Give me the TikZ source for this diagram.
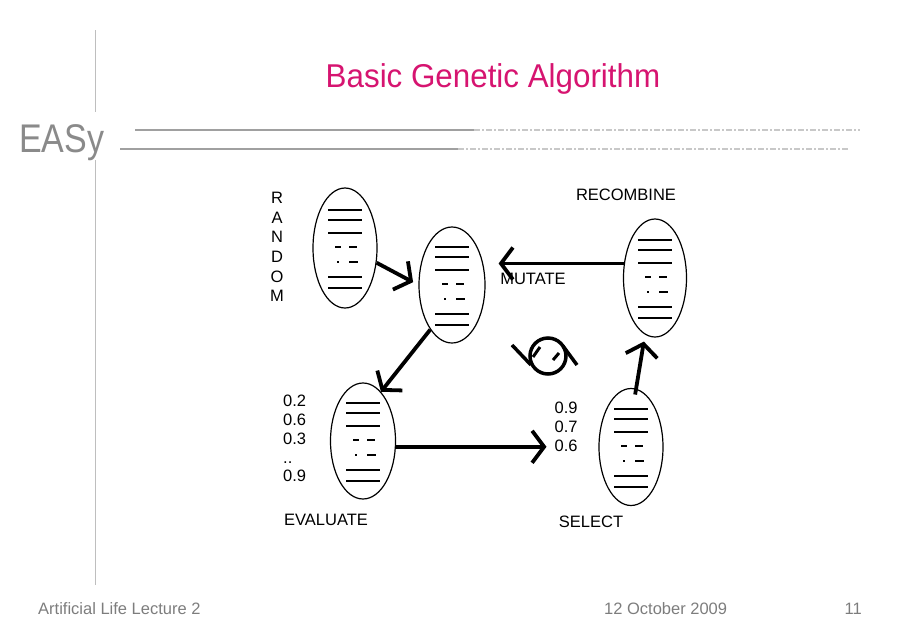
\documentclass[tikz,border=0pt]{standalone}
\usepackage{fontspec}
\setmainfont{Liberation Sans}
\usetikzlibrary{arrows.meta,shapes.geometric}
\definecolor{titlemag}{RGB}{214,20,112}
\definecolor{easygray}{RGB}{138,138,138}
\definecolor{footgray}{RGB}{125,125,125}
\definecolor{rulegray}{RGB}{160,160,160}
\definecolor{rulelight}{RGB}{200,200,200}
\definecolor{vgray}{RGB}{190,190,190}
\newcommand{\poplines}[6]{%
  \draw[line width=#2] ([shift={(-17,-38)}]#1.center) -- ++(34,0);
  \draw[line width=#3] ([shift={(-17,-28)}]#1.center) -- ++(34,0);
  \draw[line width=#4] ([shift={(-17,-15)}]#1.center) -- ++(34,0);
  \draw[line width=1.5pt] ([shift={(-10,-1)}]#1.center) -- ++(6,0);
  \draw[line width=1.5pt] ([shift={(4,-1)}]#1.center) -- ++(8,0);
  \draw[line width=1.5pt] ([shift={(-8,14)}]#1.center) -- ++(2,0);
  \draw[line width=1.8pt] ([shift={(4,14)}]#1.center) -- ++(9,0);
  \draw[line width=#5] ([shift={(-17,29)}]#1.center) -- ++(34,0);
  \draw[line width=#6] ([shift={(-17,40)}]#1.center) -- ++(34,0);
}
\tikzset{
  pop/.style={draw, ellipse, line width=1.2pt, inner sep=0pt},
  lbl/.style={inner sep=0pt, font=\fontsize{16.5}{19}\selectfont},
  arr/.style={line width=3.8pt, -{Straight Barb[length=12pt,width=32pt]}},
}
\begin{document}
\begin{tikzpicture}[x=1pt,y=-1pt]
\useasboundingbox (0,0) rectangle (903,633);
% frame lines
\draw[vgray, line width=1pt] (95,30) -- (95,112);
\draw[vgray, line width=1pt] (95,160) -- (95,585);
\draw[rulegray, line width=1.3pt] (135,130) -- (474,130);
\draw[rulelight, line width=1.3pt, dash pattern=on 6pt off 2pt on 2pt off 2pt] (474,130) -- (860,130);
\draw[rulegray, line width=1.3pt] (120,149) -- (458,149);
\draw[rulelight, line width=1.3pt, dash pattern=on 6pt off 2pt on 2pt off 2pt] (458,149) -- (848,149);
% title, logo, footer
\node[anchor=base, inner sep=0pt, text=titlemag, font=\fontsize{33}{38}\selectfont] (title) at (493,87) {\scalebox{0.95}[1]{Basic Genetic Algorithm}};
\node[anchor=base west, inner sep=0pt, text=easygray, font=\fontsize{40}{46}\selectfont] (easy) at (19,152) {\scalebox{0.85}[1]{EASy}};
\node[anchor=base west, inner sep=0pt, text=footgray, font=\fontsize{16.5}{19}\selectfont] (foot1) at (38,614) {Artificial Life Lecture 2};
\node[anchor=base west, inner sep=0pt, text=footgray, font=\fontsize{16.5}{19}\selectfont] (foot2) at (604,614) {12 October 2009};
\node[anchor=base east, inner sep=0pt, text=footgray, font=\fontsize{16.5}{19}\selectfont] (foot3) at (862,614) {11};
% populations
\node[pop, minimum width=64pt, minimum height=120pt] (rand) at (345,248) {};
\node[pop, minimum width=66pt, minimum height=116pt] (mut) at (452,285) {};
\node[pop, minimum width=63pt, minimum height=118pt] (rec) at (655,278) {};
\node[pop, minimum width=65pt, minimum height=116pt] (ev) at (363,441) {};
\node[pop, minimum width=64pt, minimum height=117pt] (sel) at (631,447) {};
\poplines{rand}{1.3pt}{1.3pt}{2.6pt}{1.3pt}{1.3pt}
\poplines{mut}{1.3pt}{1.3pt}{2.6pt}{2.6pt}{1.3pt}
\poplines{rec}{2.6pt}{1.3pt}{1.3pt}{1.3pt}{2.6pt}
\poplines{ev}{2.6pt}{1.3pt}{1.3pt}{1.3pt}{2.6pt}
\poplines{sel}{1.3pt}{2.6pt}{2.6pt}{2.6pt}{1.3pt}
% labels
\node[lbl, align=center, font=\fontsize{16.5}{19.6}\selectfont] (randlbl) at (277,247) {R\\A\\N\\D\\O\\M};
\node[lbl] (mutlbl) at (533,279) {MUTATE};
\node[lbl] (reclbl) at (626,195) {RECOMBINE};
\node[lbl] (evlbl) at (326,520) {EVALUATE};
\node[lbl] (sellbl) at (591,522) {SELECT};
\node[lbl, align=left, anchor=north west, font=\fontsize{16.5}{18.8}\selectfont] (evnums) at (283,395) {0.2\\0.6\\0.3\\..\\0.9};
\node[lbl, align=left, anchor=north west, font=\fontsize{16.5}{19}\selectfont] (selnums) at (554.5,402) {0.9\\0.7\\0.6};
% connectors
\draw[arr, shorten >=6pt] (rand.-25) -- (mut.west);
\draw[arr] (mut.-116) -- (ev.70);
\draw[arr, shorten >=8pt] (ev.-10) -- (ev.-10 -| selnums.west);
\draw[arr, shorten <=-6pt, shorten >=7pt] (sel.85) -- (rec.-100);
\draw[arr, shorten >=13pt] (rec.155) -- (rec.155 -| mut.east);
% cycle symbol
\coordinate (cyc) at (548,356);
\draw[line width=3.5pt] (cyc) circle (18pt);
\draw[line width=3.5pt] (512,345) -- (531,365);
\draw[line width=3pt] (533,357) -- (540,347);
\draw[line width=3pt] (553,360) -- (559,353);
\draw[line width=3.5pt] (563,346) -- (577,365);
\end{tikzpicture}
\end{document}
